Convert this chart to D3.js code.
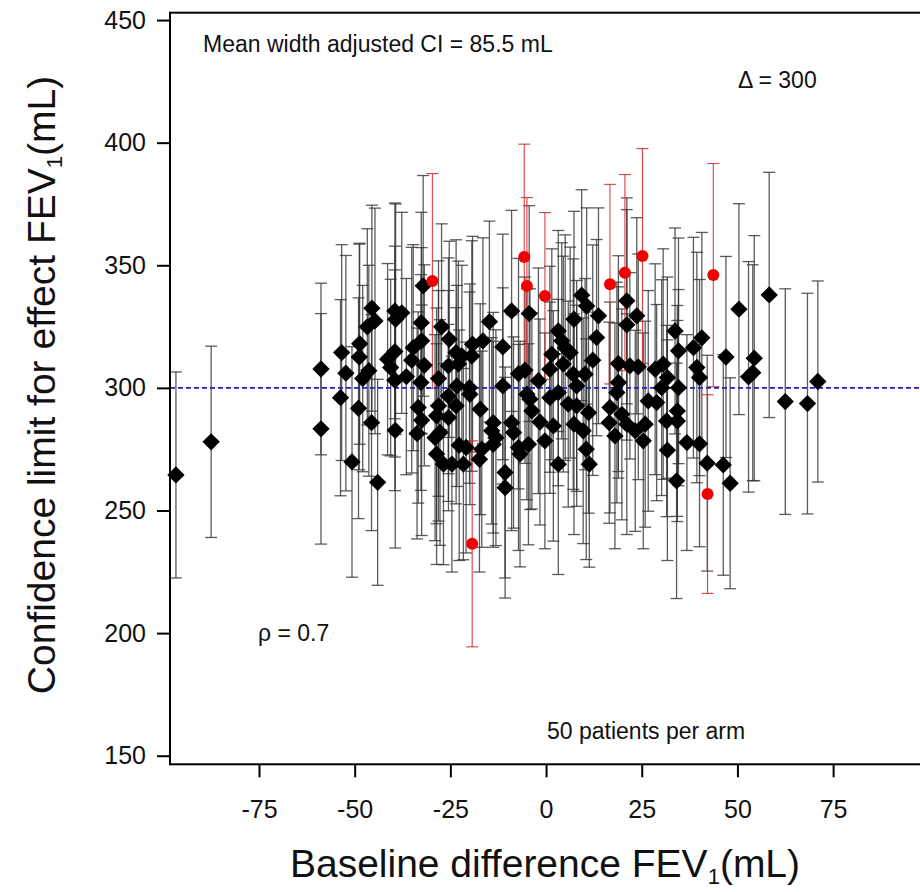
<!DOCTYPE html>
<html>
<head>
<meta charset="utf-8">
<script src="https://d3js.org/d3.v7.min.js"></script>
<style>
  body { margin: 0; background: #fff; }
  svg { font-family: "Liberation Sans", Arial, sans-serif; }
</style>
</head>
<body>
<div id="chart"></div>
<script>
// Tick labels
const xTicks = [-75, -50, -25, 0, 25, 50, 75];
const yTicks = [150, 200, 250, 300, 350, 400, 450];
const delta = 300;

// Simulated trials whose interval contains delta (black diamonds)
const blackX = [-96.7, -87.5, -58.8, -58.8, -53.4, -52.3, -53.7, -50.7, -48.7, -48.8,
  -46.3, -47.9, -49, -45.5, -44.7, -46.7, -45.6, -44, -41.4, -39.5,
  -37.7, -39.3, -39.5, -40.6, -39.5, -36.5, -39.4, -32.6, -34.7, -32.5,
  -35.1, -31.8, -32.7, -33.4, -32.5, -33.7, -32.1, -27.3, -25.3, -23.5,
  -22, -25.5, -22.9, -28.1, -23.3, -20, -19.9, -25.5, -28.1, -23.5,
  -28.6, -25.5, -27.7, -29, -28.6, -26.8, -24.6, -21.6, -22.7, -20.9,
  -17.4, -16.8, -19.2, -16.5, -14.8, -19.4, -17.2, -13.8, -14.2, -13.1,
  -13.8, -11.3, -11.3, -10.7, -10.7, -9, -9, -8.5, -7.2, -7.2,
  -6.8, -5.5, -4.4, -5, -4.6, -4.2, -3.7, -2, -1.6, -0.3,
  1, 1.5, 1.9, 3.2, 3.2, 1, 4.1, 5, 6.3, 3.2,
  4.5, 5.8, 7.1, 8, 7.3, 9.3, 10.6, 7.3, 9.7, 10.2,
  8, 11.1, 10.5, 11.3, 12.2, 13.7, 13.2, 16.7, 18, 16.5,
  18.9, 18.9, 18.5, 21.1, 21.1, 23.7, 19.8, 21.1, 23.3, 25.4,
  21.9, 24.1, 25.9, 26.7, 28.9, 28.5, 30.6, 31.7, 30.2, 31.5,
  31.7, 33.7, 34.6, 34.6, 34.3, 34.3, 34.1, 36.8, 40.1, 38.5,
  40.7, 39.4, 40.1, 42.1, 47, 46.3, 48.1, 50.4, 54.4, 52.9,
  54, 58.3, 62.5, 68.3, 71];
const blackY = [264.5, 278, 307.7, 283.3, 314.4, 306, 296, 269.8, 318, 312.6,
  307, 303.8, 291.7, 332.5, 327.3, 324.9, 285.8, 261.5, 311.7, 331.4,
  330.6, 328, 314.8, 308.3, 303.1, 304.6, 282.7, 326.6, 316.4, 319.2,
  311.3, 309.2, 302.2, 292, 286.8, 281.4, 341.6, 324.9, 319.8, 314.4,
  313, 309, 309.7, 303.8, 300.8, 300.1, 297.4, 296.7, 292.7, 292.7,
  288.6, 287.9, 281.8, 279.7, 273, 268.9, 268.9, 268.9, 276.6, 275.7,
  270.9, 275, 317.8, 319.2, 327, 313, 291.3, 285.8, 282.5, 279.7,
  277, 316.7, 300.8, 265.5, 259.3, 331.4, 285.8, 281.8, 305.8, 275.7,
  273, 307.2, 330.3, 297.4, 277, 295.4, 290.6, 302.9, 286.1, 278.4,
  296, 313.7, 284.5, 323.2, 268.9, 307.6, 319.2, 316.4, 314.4, 298.1,
  309.7, 293.4, 305.6, 292.7, 285.2, 337.8, 333.4, 328, 282.5, 305.6,
  300.8, 289.9, 275, 268.9, 311.3, 329.4, 320.5, 292, 280.4, 285.8,
  309.9, 302.2, 298.1, 335.5, 325.7, 329.4, 289.2, 285.2, 282.5, 278.4,
  309, 308.6, 285.2, 294.7, 294, 307.6, 309.7, 304.2, 300.1, 286.5,
  274.6, 323.2, 315.1, 300.1, 290.6, 286.5, 262.1, 277.7, 277.2, 316.4,
  320.4, 308.3, 304.2, 269.3, 312.6, 268.6, 261.1, 332.1, 312.1, 304.5,
  306.2, 337.9, 294.4, 293.6, 302.6];
const blackHalf = [42, 39, 35, 47, 44, 48, 40, 47, 41, 46,
  43, 38, 45, 42, 46, 40, 44, 42, 39, 44,
  41, 47, 43, 36, 45, 40, 48, 45, 42, 38,
  46, 41, 44, 39, 47, 43, 45, 42, 40, 46,
  37, 44, 42, 48, 41, 39, 45, 43, 47, 40,
  44, 38, 46, 42, 45, 41, 44, 39, 47, 43,
  46, 40, 44, 42, 41, 47, 43, 45, 38, 44,
  42, 46, 40, 43, 45, 41, 44, 39, 47, 42,
  46, 38, 44, 43, 41, 45, 40, 46, 42, 44,
  39, 43, 47, 41, 45, 42, 40, 46, 43, 38,
  44, 42, 47, 41, 45, 43, 40, 44, 46, 39,
  43, 41, 45, 42, 47, 44, 40, 43, 46, 41,
  44, 39, 45, 42, 47, 40, 43, 45, 41, 44,
  38, 46, 42, 45, 40, 43, 47, 41, 44, 39,
  45, 42, 46, 40, 43, 41, 48, 44, 42, 45,
  43, 47, 40, 44, 41, 45, 43, 43, 50, 47,
  44, 50, 46, 45, 41];

// Trials whose interval misses delta (red circles)
const redX = [-29.7, -19.3, -5.7, -5, -0.3, 16.7, 20.6, 25.2, 42.2, 43.7];
const redY = [343.6, 236.4, 353.4, 341.6, 337.5, 342.3, 347, 353.8, 256.7, 346];
const redHalf = [43.8, 42, 46, 36, 34, 40.7, 40, 43.8, 40.5, 45.5];

const W = 920, H = 892;
const plotLeft = 170, plotRight = 920, plotTop = 12.7, plotBottom = 764.3;

const svg = d3.select("#chart").append("svg")
  .attr("width", W)
  .attr("height", H);

const x = d3.scaleLinear().domain([-98.25, 97.7]).range([plotLeft, plotRight]);
const y = d3.scaleLinear().domain([146.5, 453]).range([plotBottom, plotTop]);

const black = blackX.map((d, i) => ({ x: d, y: blackY[i], h: blackHalf[i] }));
const red = redX.map((d, i) => ({ x: d, y: redY[i], h: redHalf[i] }));

// Error bars
function drawBars(data, color, width, opacity) {
  const g = svg.append("g")
    .attr("stroke", color)
    .attr("stroke-width", width)
    .attr("stroke-opacity", opacity)
    .attr("fill", "none");
  const bars = g.selectAll("g").data(data).join("g");
  bars.append("line")
    .attr("x1", d => x(d.x)).attr("x2", d => x(d.x))
    .attr("y1", d => y(d.y - d.h)).attr("y2", d => y(d.y + d.h));
  bars.append("line")
    .attr("x1", d => x(d.x) - 6).attr("x2", d => x(d.x) + 6)
    .attr("y1", d => y(d.y + d.h)).attr("y2", d => y(d.y + d.h));
  bars.append("line")
    .attr("x1", d => x(d.x) - 6).attr("x2", d => x(d.x) + 6)
    .attr("y1", d => y(d.y - d.h)).attr("y2", d => y(d.y - d.h));
}
drawBars(black, "#333", 1.3, 0.8);
drawBars(red, "#d42020", 1.1, 0.85);

// Reference line at delta
svg.append("line")
  .attr("x1", plotLeft).attr("x2", plotRight)
  .attr("y1", y(delta)).attr("y2", y(delta))
  .attr("stroke", "#1f1fc4")
  .attr("stroke-width", 1.6)
  .attr("stroke-dasharray", "5,3");

// Diamonds
const diamond = d3.symbol().type(d3.symbolSquare).size(150);
svg.append("g").selectAll("path")
  .data(black)
  .join("path")
  .attr("d", diamond)
  .attr("transform", d => `translate(${x(d.x)},${y(d.y)}) rotate(45)`)
  .attr("fill", "#000");

svg.append("g").selectAll("circle")
  .data(red)
  .join("circle")
  .attr("cx", d => x(d.x))
  .attr("cy", d => y(d.y))
  .attr("r", 6)
  .attr("fill", "#f00000");

// Frame
svg.append("rect")
  .attr("x", plotLeft).attr("y", plotTop)
  .attr("width", plotRight - plotLeft + 20).attr("height", plotBottom - plotTop)
  .attr("fill", "none")
  .attr("stroke", "#000")
  .attr("stroke-width", 2);

// Axes
const yAxis = svg.append("g")
  .attr("transform", `translate(${plotLeft},0)`)
  .call(d3.axisLeft(y).tickValues(yTicks).tickSize(13).tickPadding(11));
const xAxis = svg.append("g")
  .attr("transform", `translate(0,${plotBottom})`)
  .call(d3.axisBottom(x).tickValues(xTicks).tickFormat(d => String(d))
    .tickSize(13).tickPadding(23));
[xAxis, yAxis].forEach(a => {
  a.select(".domain").remove();
  a.selectAll(".tick line").attr("stroke", "#000").attr("stroke-width", 2);
  a.selectAll(".tick text")
    .attr("fill", "#111")
    .style("font-size", "25px")
    .style("font-family", "'Liberation Sans', Arial, sans-serif");
});

// Axis titles
const xTitle = svg.append("text")
  .attr("x", 545).attr("y", 877)
  .attr("text-anchor", "middle")
  .style("font-size", "39px")
  .attr("fill", "#111");
xTitle.append("tspan").text("Baseline difference FEV");
xTitle.append("tspan").attr("dy", 7).style("font-size", "22px").text("1");
xTitle.append("tspan").attr("dy", -7).text("(mL)");

const yTitle = svg.append("text")
  .attr("transform", "translate(55,385) rotate(-90)")
  .attr("text-anchor", "middle")
  .style("font-size", "39px")
  .attr("fill", "#111");
yTitle.append("tspan").text("Confidence limit for effect FEV");
yTitle.append("tspan").attr("dy", 7).style("font-size", "22px").text("1");
yTitle.append("tspan").attr("dy", -7).text("(mL)");

// Annotations
const notes = [
  { text: "Mean width adjusted CI = 85.5 mL", x: 203, y: 52 },
  { text: "\u0394 = 300", x: 738, y: 88 },
  { text: "\u03c1 = 0.7", x: 258, y: 641 },
  { text: "50 patients per arm", x: 547, y: 739 }
];
svg.append("g").selectAll("text")
  .data(notes)
  .join("text")
  .attr("x", d => d.x)
  .attr("y", d => d.y)
  .style("font-size", "23px")
  .attr("fill", "#111")
  .text(d => d.text);
</script>
</body>
</html>
